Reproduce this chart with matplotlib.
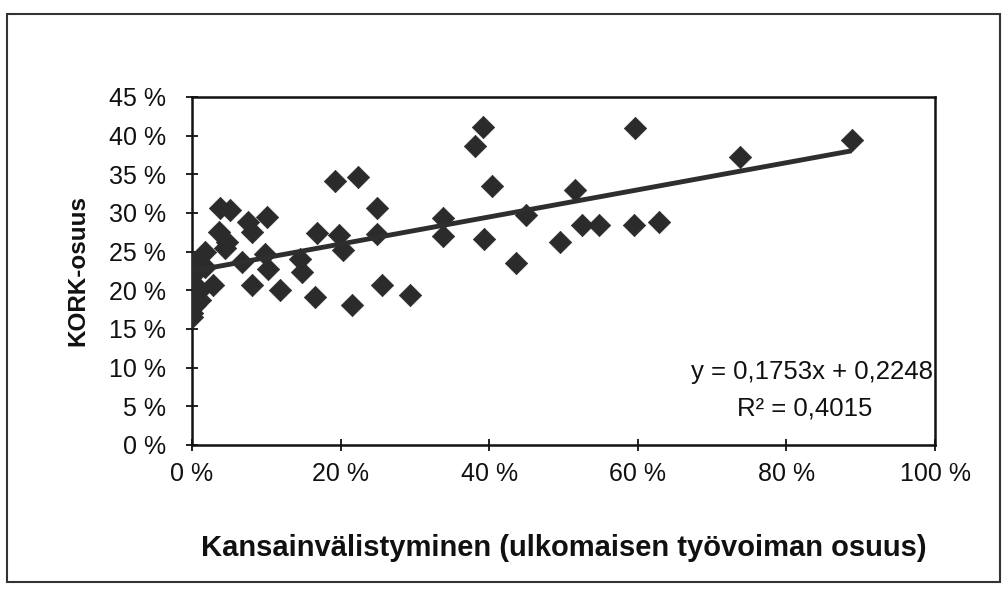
import matplotlib
matplotlib.use("Agg")
import matplotlib.pyplot as plt
import numpy as np
from matplotlib.patches import Rectangle

plt.rcParams['font.family'] = ['Liberation Sans', 'DejaVu Sans']

# Data (share values, in %)
x_ulkomainen = [0.1, 0.1, 0.1, 0.1, 0.4, 0.0, 0.0, 1.1, 1.1, 1.7, 1.7, 2.8,
                3.8, 5.1, 3.6, 4.7, 4.4, 6.7, 7.5, 8.1, 8.1, 10.1, 9.8, 10.2,
                11.8, 14.5, 14.8, 16.6, 16.8, 19.2, 19.8, 20.3, 21.5, 22.3,
                24.9, 24.9, 25.6, 29.3, 33.8, 33.8, 38.1, 39.2, 39.3, 40.4,
                43.6, 45.0, 49.5, 51.5, 52.5, 54.8, 59.5, 59.6, 62.9, 73.8, 88.8]
y_kork = [23.7, 22.0, 21.0, 19.1, 18.1, 17.1, 16.6, 20.0, 18.8, 25.0, 23.0, 20.7,
          30.6, 30.4, 27.6, 26.3, 25.5, 23.6, 28.9, 27.5, 20.7, 29.5, 24.7, 22.8,
          20.1, 24.0, 22.4, 19.2, 27.4, 34.1, 27.1, 25.2, 18.1, 34.6,
          30.6, 27.3, 20.7, 19.4, 29.3, 27.0, 38.6, 41.1, 26.7, 33.5,
          23.5, 29.8, 26.3, 33.0, 28.5, 28.5, 28.4, 41.0, 28.8, 37.3, 39.4]

slope = 0.1753
intercept = 0.2248
r2 = 0.4015

x_ticks = [0, 20, 40, 60, 80, 100]
y_ticks = [0, 5, 10, 15, 20, 25, 30, 35, 40, 45]
x_ticklabels = [f"{v} %" for v in x_ticks]
y_ticklabels = [f"{v} %" for v in y_ticks]

W, H = 1005, 591
fig = plt.figure(figsize=(W / 100, H / 100), dpi=100)
ax = fig.add_axes([192 / W, 1 - 445 / H, (935 - 192) / W, (445 - 97) / H])

x = np.array(x_ulkomainen) / 100
y = np.array(y_kork) / 100

ax.scatter(x, y, marker='D', s=130, color='#2b2b2b', edgecolor='#2b2b2b',
           linewidths=0.5, zorder=3)

xl = np.array([x.min(), x.max()])
ax.plot(xl, slope * xl + intercept, color='#2e2e2e', lw=3.5, zorder=4,
        solid_capstyle='butt')

ax.set_xlim(0, 1.0)
ax.set_ylim(0, 0.45)
ax.set_xticks(np.array(x_ticks) / 100)
ax.set_xticklabels(x_ticklabels)
ax.set_yticks(np.array(y_ticks) / 100)
ax.set_yticklabels(y_ticklabels)
ax.tick_params(axis='both', direction='inout', length=9, width=1.3,
               labelsize=18, colors='#111111')
ax.tick_params(axis='x', pad=8)
ax.tick_params(axis='y', pad=14)
for sp in ax.spines.values():
    sp.set_linewidth(1.8)
    sp.set_color('#111111')

ax.set_xlabel("Kansainvälistyminen (ulkomaisen työvoiman osuus)",
              fontsize=21, fontweight='bold', labelpad=34, color='#111111')
ax.set_ylabel("KORK-osuus", fontsize=17.5, fontweight='bold', labelpad=14,
              color='#111111')

eq = f"y = {slope:.4f}x + {intercept:.4f}".replace('.', ',')
ax.text(0.997, 0.21, eq, transform=ax.transAxes, ha='right', va='center',
        fontsize=18.5, color='#111111')
ax.text(0.825, 0.105, "R² = " + f"{r2:.4f}".replace('.', ','),
        transform=ax.transAxes, ha='center', va='center',
        fontsize=18.5, color='#111111')

fig.patches.append(Rectangle((7 / W, 1 - 582 / H), (1000 - 7) / W, (582 - 14) / H,
                             transform=fig.transFigure, fill=False,
                             edgecolor='#333333', lw=1.5))

fig.savefig("out.png", dpi=100)
